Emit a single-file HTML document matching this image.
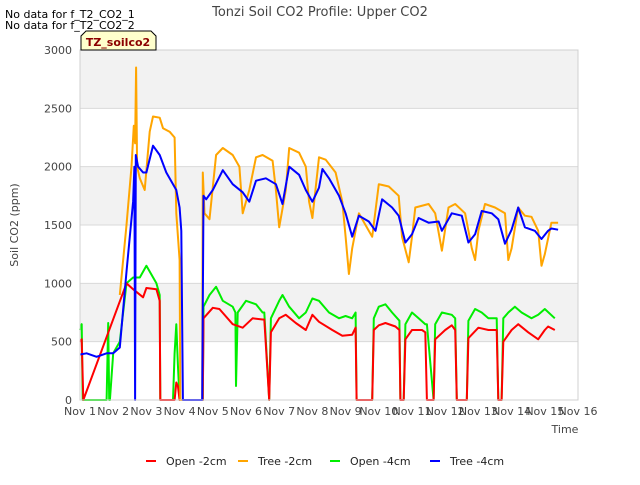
<!DOCTYPE html>
<html><head><meta charset="utf-8">
<style>
body{margin:0;background:#fff;font-family:"Liberation Sans","DejaVu Sans",sans-serif;}
svg text{font-family:"DejaVu Sans","Liberation Sans",sans-serif;}
</style></head>
<body>
<svg id="chart" width="640" height="480" xmlns="http://www.w3.org/2000/svg">
<text x="320" y="16" text-anchor="middle" font-size="13" fill="#444">Tonzi Soil CO2 Profile: Upper CO2</text>
<text x="5" y="18" font-size="11" fill="#000">No data for f_T2_CO2_1</text>
<text x="5" y="29" font-size="11" fill="#000">No data for f_T2_CO2_2</text>
<g id="bands"></g>
<g id="grid"></g>
<g id="series"></g>
<g id="axes"></g>
<g>
<path d="M81 50 L81 36 L86 31 L151 31 L156 36 L156 50 Z" fill="#ffffcc" stroke="#000" stroke-width="1"/>
<text x="118" y="46" text-anchor="middle" font-size="11" font-weight="bold" fill="#8b0000">TZ_soilco2</text>
</g>
<text x="18" y="225" transform="rotate(-90 18 225)" text-anchor="middle" font-size="11" fill="#444">Soil CO2 (ppm)</text>
<text x="565" y="433" text-anchor="middle" font-size="11" fill="#444">Time</text>
<g id="legend"></g>
</svg>
<script>
const xTicks=["Nov 1","Nov 2","Nov 3","Nov 4","Nov 5","Nov 6","Nov 7","Nov 8","Nov 9","Nov 10","Nov 11","Nov 12","Nov 13","Nov 14","Nov 15","Nov 16"];
const yTicks=[0,500,1000,1500,2000,2500,3000];
const seriesNames=["Open -2cm","Tree -2cm","Open -4cm","Tree -4cm"];
const seriesColors=["#ff0000","#ffa500","#00ee00","#0000ff"];
const open2Days=[0,0.05,0.1,1.4,1.6,1.9,2.0,2.3,2.4,2.42,2.85,2.9,2.95,3.0,3.7,3.72,4.0,4.2,4.6,4.9,5.2,5.5,5.55,5.7,5.75,6.0,6.2,6.5,6.8,7.0,7.2,7.6,7.9,8.2,8.3,8.33,8.8,8.85,9.0,9.2,9.5,9.62,9.65,9.75,9.8,10.0,10.3,10.4,10.45,10.65,10.7,11.0,11.2,11.3,11.35,11.65,11.7,12.0,12.3,12.55,12.6,12.7,12.75,13.0,13.2,13.5,13.8,14.0,14.1,14.3];
const open2Vals=[500,520,0,1000,950,880,960,950,850,0,0,150,120,0,0,700,790,780,650,620,700,690,690,0,580,700,730,660,600,730,670,600,550,560,620,0,0,600,640,660,630,600,0,0,520,600,600,580,0,0,520,600,640,600,0,0,530,620,600,600,0,0,500,600,650,580,520,600,630,600];
const tree2Days=[1.2,1.4,1.55,1.62,1.66,1.69,1.72,1.8,1.95,2.1,2.2,2.4,2.5,2.7,2.85,2.9,3.0,3.02,3.68,3.7,3.75,3.9,4.1,4.3,4.6,4.8,4.9,5.1,5.3,5.5,5.8,5.9,6.0,6.2,6.3,6.6,6.8,6.9,7.0,7.2,7.4,7.7,7.9,8.0,8.1,8.2,8.4,8.6,8.8,9.0,9.3,9.6,9.7,9.9,10.0,10.1,10.5,10.7,10.9,11.1,11.3,11.6,11.8,11.9,12.0,12.2,12.5,12.8,12.9,13.0,13.2,13.4,13.6,13.8,13.9,14.0,14.2,14.4];
const tree2Vals=[900,1500,2000,2350,2200,2850,2000,1900,1800,2300,2430,2420,2330,2300,2250,1600,1200,0,0,1950,1600,1550,2100,2160,2100,2000,1600,1800,2080,2100,2050,1800,1480,1800,2160,2120,2000,1700,1560,2080,2060,1950,1700,1400,1080,1300,1600,1500,1400,1850,1830,1750,1400,1180,1400,1650,1680,1600,1280,1650,1680,1600,1300,1200,1450,1680,1650,1600,1200,1300,1650,1580,1570,1450,1150,1250,1520,1520];
const open4Days=[0,0.05,0.08,0.4,0.8,0.85,0.88,0.9,1.0,1.2,1.4,1.6,1.8,2.0,2.3,2.4,2.42,2.8,2.85,2.9,2.95,3.0,3.7,3.72,3.9,4.1,4.3,4.6,4.68,4.7,4.75,5.0,5.3,5.5,5.55,5.7,5.75,6.0,6.1,6.3,6.6,6.8,7.0,7.2,7.5,7.8,8.0,8.2,8.3,8.33,8.8,8.85,9.0,9.2,9.4,9.62,9.65,9.75,9.8,10.0,10.2,10.4,10.45,10.65,10.7,10.9,11.2,11.3,11.35,11.65,11.7,11.9,12.1,12.3,12.55,12.6,12.7,12.75,12.9,13.1,13.3,13.6,13.8,14.0,14.3];
const open4Vals=[600,650,0,0,0,660,0,0,400,500,1000,1050,1050,1150,1000,900,0,0,400,650,300,0,0,800,900,970,850,800,750,120,750,850,820,750,750,0,700,850,900,800,700,750,870,850,750,700,720,700,750,0,0,700,800,820,750,680,0,0,650,750,700,650,650,0,650,750,730,700,0,0,680,780,750,700,700,0,0,700,750,800,750,700,730,780,700];
const tree4Days=[0,0.2,0.5,0.8,1.0,1.2,1.4,1.6,1.64,1.66,1.68,1.75,1.9,2.0,2.2,2.4,2.6,2.9,3.0,3.05,3.1,3.68,3.72,3.8,4.0,4.3,4.6,4.9,5.1,5.3,5.6,5.9,6.1,6.3,6.6,6.8,7.0,7.2,7.3,7.5,7.8,8.0,8.2,8.4,8.7,8.9,9.1,9.4,9.6,9.8,10.0,10.2,10.5,10.8,10.9,11.2,11.5,11.7,11.9,12.1,12.4,12.6,12.8,13.0,13.2,13.4,13.7,13.9,14.1,14.2,14.4];
const tree4Vals=[390,400,370,400,400,450,1100,1700,2000,0,2100,2000,1950,1950,2180,2100,1950,1800,1650,1450,0,0,1750,1720,1800,1970,1850,1780,1700,1880,1900,1850,1680,2000,1930,1800,1700,1820,1980,1900,1750,1600,1400,1580,1530,1450,1720,1650,1580,1350,1420,1560,1520,1530,1450,1600,1580,1350,1420,1620,1600,1550,1340,1460,1650,1480,1450,1380,1450,1470,1460];
const L=80,R=578,T=50,B=400;
const xs=d=>L+(R-L)*d/15;
const ys=v=>B-(B-T)*v/3000;
const NS="http://www.w3.org/2000/svg";
function mk(tag,attrs,parent){const e=document.createElementNS(NS,tag);for(const k in attrs)e.setAttribute(k,attrs[k]);parent.appendChild(e);return e;}
const bands=document.getElementById('bands'),grid=document.getElementById('grid'),axes=document.getElementById('axes'),ser=document.getElementById('series'),leg=document.getElementById('legend');
for(let i=0;i<yTicks.length-1;i++){
  const b=mk('rect',{x:L,y:ys(yTicks[i+1]),width:R-L,height:ys(yTicks[i])-ys(yTicks[i+1]),fill:(i%2===1)?'#f2f2f2':'#ffffff'},bands);
  
  
}
yTicks.forEach(v=>{
  const g=mk('line',{x1:L,x2:R,y1:ys(v),y2:ys(v),stroke:'#d9d9d9','stroke-width':1},grid);
  
  
  const t=mk('text',{x:L-8,y:ys(v)+4,'text-anchor':'end','font-size':11,fill:'#444'},axes);
  t.textContent=v;
  
  
});
const fr=mk('rect',{x:L,y:T,width:R-L,height:B-T,fill:'none',stroke:'#d0d0d0'},axes);


xTicks.forEach((s,i)=>{
  const t=mk('text',{x:xs(i),y:415,'text-anchor':'middle','font-size':11,fill:'#444'},axes);
  t.textContent=s;
  
  
});
const data=[[open2Days,open2Vals],[tree2Days,tree2Vals],[open4Days,open4Vals],[tree4Days,tree4Vals]];
const order=[2,0,1,3];
const ids=['open-2cm-line','tree-2cm-line','open-4cm-line','tree-4cm-line'];
order.forEach(i=>{
  const [d,v]=data[i];
  const pts=d.map((x,j)=>xs(x).toFixed(1)+','+ys(v[j]).toFixed(1)).join(' ');
  const p=mk('polyline',{points:pts,fill:'none',stroke:seriesColors[i],'stroke-width':2,'stroke-linejoin':'round'},ser);
  
  
});
const lx=[146,238,330,430];
seriesNames.forEach((n,i)=>{
  const g=mk('g',{},leg);
  
  
  mk('line',{x1:lx[i],x2:lx[i]+10,y1:461,y2:461,stroke:seriesColors[i],'stroke-width':2},g);
  const t=mk('text',{x:lx[i]+20,y:465,'font-size':11,fill:'#222'},g);
  t.textContent=n;
});
</script>
</body></html>
